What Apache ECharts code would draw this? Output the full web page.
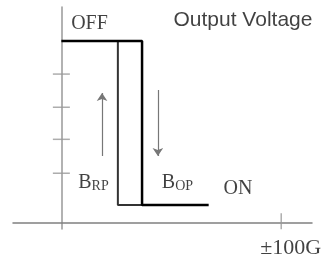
<!DOCTYPE html>
<html>
<head>
<meta charset="utf-8">
<script src="https://cdn.jsdelivr.net/npm/echarts@6/dist/echarts.min.js"></script>
<style>
  html, body { margin: 0; padding: 0; background: #fff; }
  #chart { width: 323px; height: 262px; }
</style>
</head>
<body>
<div id="chart"></div>
<script>
// field in G, output in V
var offLevel = 5;
var onLevel = 0.5;
var bRP = 25.7;
var bOP = 36.7;
var onEnd = 67;
var yTicks = [1.37, 2.30, 3.18, 4.09];
var xTicks = [100];
var upArrow = [[18.5, 1.84], [18.5, 3.57]];
var downArrow = [[43.9, 3.65], [43.9, 1.84]];
var labelTexts = ['OFF', 'ON', '{b|B}{s|RP}', '{b|B}{s|OP}', '±100G', 'Output Voltage'];
var labelPos = [[12.8, 5.47], [80.3, 0.94], [14.6, 1.10], [52.8, 1.10], [104.3, -0.68], [82.6, 5.57]];

var serif = 'Liberation Serif';
var labelData = labelTexts.map(function (t, i) {
    var d = { value: [labelPos[i][0], labelPos[i][1], t] };
    if (t == 'Output Voltage') {
        d.label = { fontFamily: 'Liberation Sans', fontSize: 21 };
    }
    if (t == '±100G') {
        d.label = { fontSize: 22 };
    }
    return d;
});

var chart = echarts.init(document.getElementById('chart'));
chart.setOption({
    backgroundColor: '#fff',
    animation: false,
    grid: { left: 13, right: 11, top: 7, bottom: 33 },
    xAxis: {
        type: 'value', min: -22, max: 114,
        axisLine: { onZero: true, lineStyle: { color: '#808080', width: 1.5 } },
        axisTick: { show: false }, axisLabel: { show: false }, splitLine: { show: false }
    },
    yAxis: {
        type: 'value', min: -0.16, max: 5.93,
        axisLine: { onZero: true, lineStyle: { color: '#999', width: 1.5 } },
        axisTick: { show: false }, axisLabel: { show: false }, splitLine: { show: false }
    },
    series: [
        {
            type: 'line', symbol: 'none', silent: true,
            lineStyle: { color: '#333', width: 2 },
            data: [[bRP, offLevel], [bRP, onLevel], [bOP, onLevel]]
        },
        {
            type: 'line', symbol: 'none', silent: true,
            lineStyle: { color: '#000', width: 2.5 },
            data: [[0, offLevel], [bOP, offLevel], [bOP, onLevel], [onEnd, onLevel]]
        },
        {
            type: 'lines', coordinateSystem: 'cartesian2d', silent: true,
            symbol: ['none', 'arrow'], symbolSize: [6, 8],
            lineStyle: { color: '#777', width: 1.2, opacity: 1 },
            data: [{ coords: upArrow }, { coords: downArrow }]
        },
        {
            type: 'scatter', silent: true, symbol: 'rect', symbolSize: [17, 1.5],
            itemStyle: { color: '#999' },
            data: yTicks.map(function (v) { return [0, v]; })
        },
        {
            type: 'scatter', silent: true, symbol: 'rect', symbolSize: [1.5, 16],
            symbolOffset: [0, -2], itemStyle: { color: '#999' },
            data: xTicks.map(function (v) { return [v, 0]; })
        },
        {
            type: 'scatter', silent: true, clip: false, symbolSize: 0,
            data: labelData,
            label: {
                show: true, position: 'inside', color: '#111',
                fontFamily: serif, fontSize: 20,
                formatter: function (p) { return p.value[2]; },
                rich: {
                    b: { fontFamily: serif, fontSize: 20, color: '#111' },
                    s: { fontFamily: serif, fontSize: 14, color: '#111', verticalAlign: 'bottom', padding: [4, 0, 0, 0] }
                }
            }
        }
    ]
});
</script>
</body>
</html>
